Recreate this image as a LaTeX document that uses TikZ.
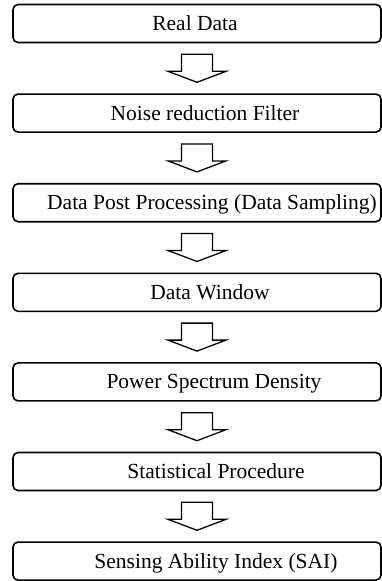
\documentclass[tikz,border=0pt]{standalone}
\usepackage{fontspec}
\setmainfont{Liberation Serif}
\usetikzlibrary{positioning,calc}
\begin{document}
\begin{tikzpicture}[x=1pt, y=1pt, line join=round, line cap=round,
	stage/.style={draw, line width=1.6pt, rounded corners=5pt, minimum width=368pt, minimum height=38pt, outer sep=0pt, inner sep=0pt},
	stagetext/.style={font=\fontsize{21.5}{24}\selectfont, inner sep=0pt, anchor=base},
	flowarrow/.pic={\draw[line width=1.3pt, line join=miter] (-15.5,14)--(-15.5,-3)--(-29,-3)--(0,-14)--(29,-3)--(15.5,-3)--(15.5,14)--cycle;}]
	\useasboundingbox (0,0) rectangle (382,-581);
	% boxes
	\node[stage] (real) at (197,-23.5) {};
	\node[stage, below=51.6pt of real] (noise) {};
	\node[stage, below=51.6pt of noise] (post) {};
	\node[stage, below=51.6pt of post] (window) {};
	\node[stage, below=51.6pt of window] (psd) {};
	\node[stage, below=51.6pt of psd] (stat) {};
	\node[stage, below=51.6pt of stat] (sai) {};
	% texts
	\node[stagetext] (realtext) at ([xshift=-2pt, yshift=-7pt]real.center) {Real Data};
	\node[stagetext] (noisetext) at ([xshift=8pt, yshift=-7pt]noise.center) {Noise reduction Filter};
	\node[stagetext] (posttext) at ([xshift=15pt, yshift=-7pt]post.center) {Data Post Processing (Data Sampling)};
	\node[stagetext] (windowtext) at ([xshift=13pt, yshift=-7pt]window.center) {Data Window};
	\node[stagetext] (psdtext) at ([xshift=17pt, yshift=-7pt]psd.center) {Power Spectrum Density};
	\node[stagetext] (stattext) at ([xshift=19pt, yshift=-7pt]stat.center) {Statistical Procedure};
	\node[stagetext] (saitext) at ([xshift=19pt, yshift=-7pt]sai.center) {Sensing Ability Index (SAI)};
	% arrows
	\pic at ($(real.south)!0.5!(noise.north)$) {flowarrow};
	\pic at ($(noise.south)!0.5!(post.north)$) {flowarrow};
	\pic at ($(post.south)!0.5!(window.north)$) {flowarrow};
	\pic at ($(window.south)!0.5!(psd.north)$) {flowarrow};
	\pic at ($(psd.south)!0.5!(stat.north)$) {flowarrow};
	\pic at ($(stat.south)!0.5!(sai.north)$) {flowarrow};
\end{tikzpicture}
\end{document}
